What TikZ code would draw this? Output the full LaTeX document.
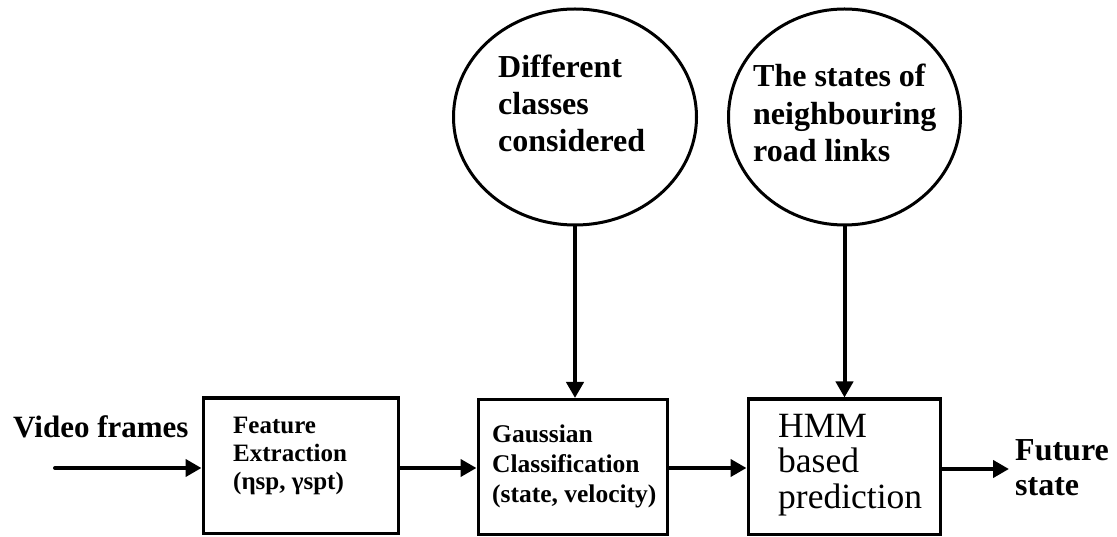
\documentclass[tikz,border=0pt]{standalone}
\usepackage{fontspec}
\setmainfont{Liberation Serif}
\usetikzlibrary{arrows.meta,shapes.geometric}

\begin{document}
\begin{tikzpicture}[x=1pt, y=-1pt,
  block/.style={draw, line width=3pt, rectangle, minimum height=135pt, inner sep=0pt},
  cloud/.style={draw, line width=3pt, ellipse, minimum height=216pt, inner sep=0pt},
  flow/.style={line width=4pt, -{Triangle[length=16pt,width=17pt]}},
  tag/.style={align=left, inner sep=0pt, anchor=base west}]
  \useasboundingbox (0,0) rectangle (1117,537);
  \node[block, minimum width=195pt] (feat) at (300.5,465.5) {};
  \node[block, minimum width=189pt] (gauss) at (572.5,467) {};
  \node[block, minimum width=192pt] (hmm) at (844,466.5) {};
  \node[cloud, minimum width=243pt] (classes) at (575,117) {};
  \node[cloud, minimum width=232pt] (neigh) at (844.5,117) {};
  \node[tag, font=\fontsize{25}{28}\selectfont\bfseries] (feattext) at (233,489) {Feature\\Extraction\\(ηsp, γspt)};
  \node[tag, font=\fontsize{25.5}{30}\selectfont\bfseries] (gausstext) at (492,502) {Gaussian\\Classification\\(state, velocity)};
  \node[tag, font=\fontsize{35.5}{35.5}\selectfont] (hmmtext) at (778,508) {HMM\\based\\prediction};
  \node[tag, font=\fontsize{32}{37}\selectfont\bfseries] (classestext) at (498,152) {Different\\classes\\considered};
  \node[tag, font=\fontsize{32}{37.5}\selectfont\bfseries] (neightext) at (753,162) {The states of\\neighbouring\\road links};
  \node[tag, font=\fontsize{31}{36}\selectfont\bfseries] (video) at (13,437) {Video frames};
  \node[tag, font=\fontsize{32}{35}\selectfont\bfseries] (future) at (1015,495) {Future\\state};
  \coordinate (vidstart) at (55,468);
  \coordinate (futend) at (1009,469);
  \draw[flow, line cap=round] (vidstart) -- (vidstart -| feat.west);
  \draw[flow] (feat.east |- vidstart) -- (gauss.west |- vidstart);
  \draw[flow] (gauss.east |- vidstart) -- (hmm.west |- vidstart);
  \draw[flow] (hmm.east |- futend) -- (futend);
  \draw[flow] (classes.south) -- (classes.south |- gauss.north);
  \draw[flow] (neigh.south) -- (neigh.south |- hmm.north);
\end{tikzpicture}
\end{document}
